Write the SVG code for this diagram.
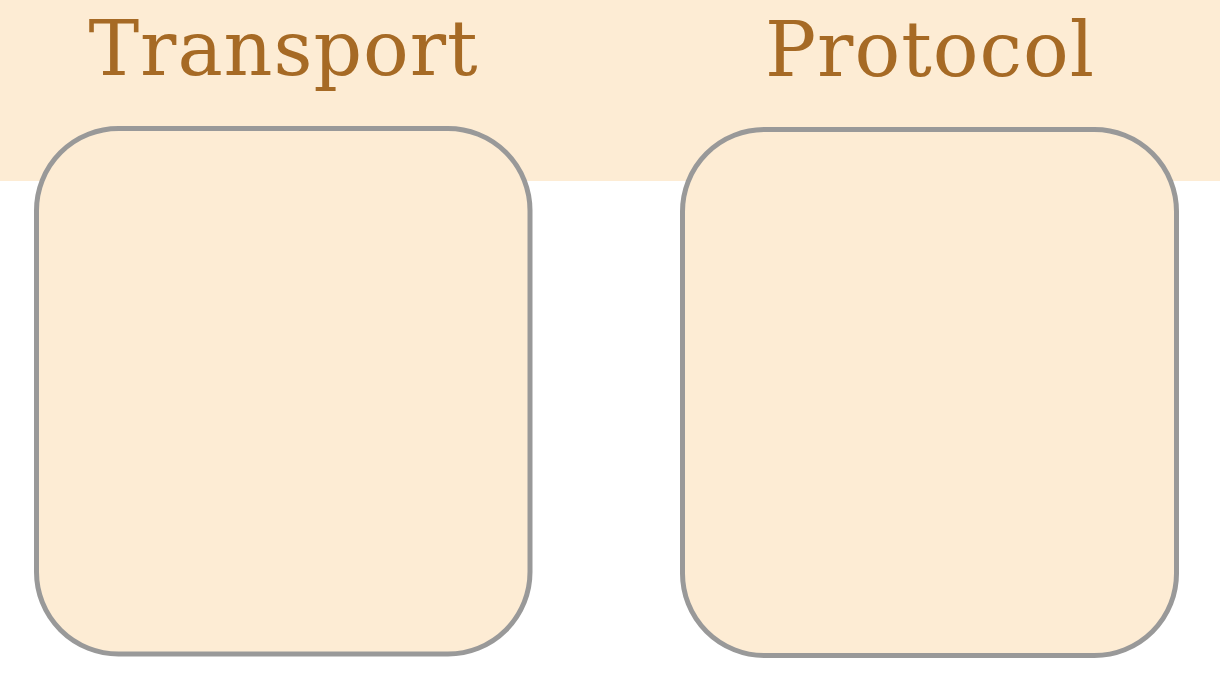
<svg xmlns="http://www.w3.org/2000/svg" width="1220" height="674" viewBox="0 0 1220 674">
  <style>
    .band { fill: #fdecd4; }
    .box { fill: #fdecd4; stroke: #999999; stroke-width: 5; }
    .title { font-family: "DejaVu Serif", serif; font-size: 76px; fill: #a66a25; text-anchor: middle; }
  </style>
  <rect class="band" x="0" y="0" width="1220" height="181"/>
  <g id="transport">
    <text class="title" x="283" y="75" textLength="389" lengthAdjust="spacing">Transport</text>
    <rect class="box" x="36.5" y="128.5" width="493.5" height="525.5" rx="82" ry="82"/>
  </g>
  <g id="protocol">
    <text class="title" x="929.5" y="76" textLength="329" lengthAdjust="spacing">Protocol</text>
    <rect class="box" x="682.5" y="129.5" width="494" height="526" rx="82" ry="82"/>
  </g>
  <g id="connectors"/>
</svg>
